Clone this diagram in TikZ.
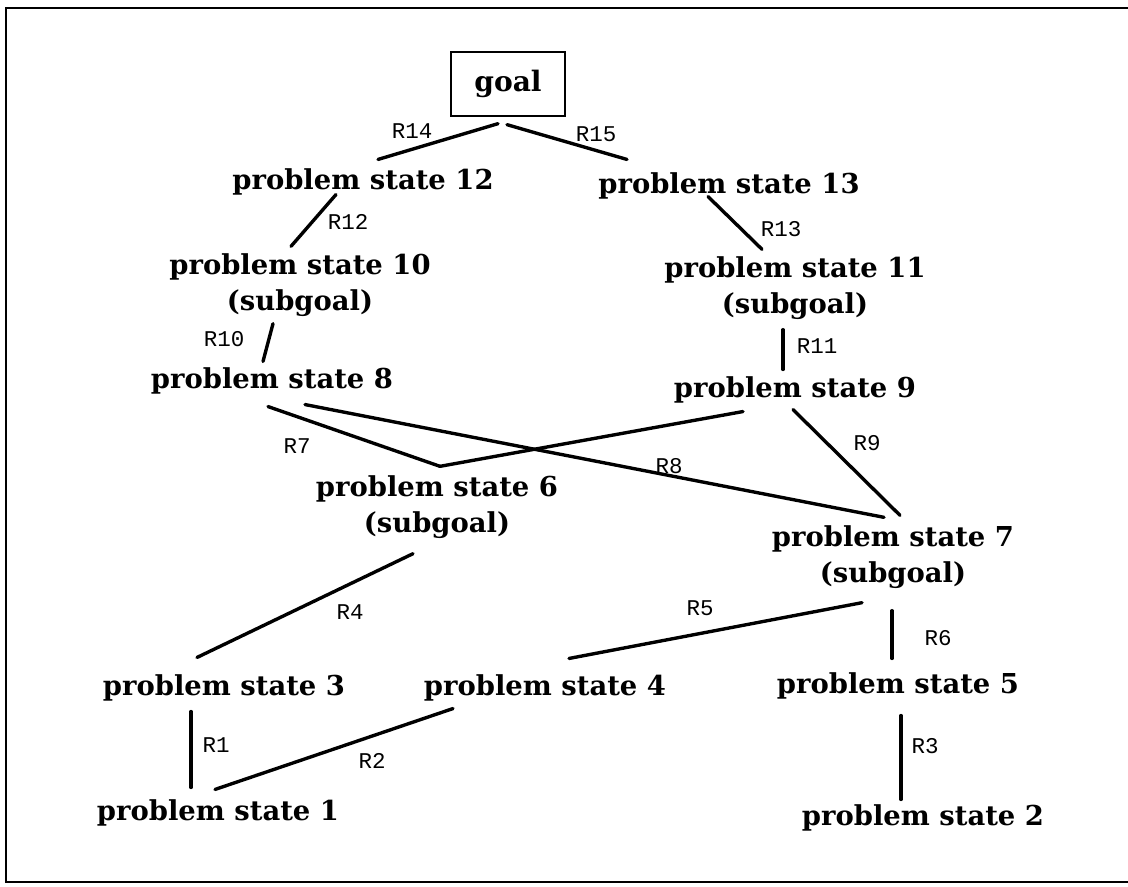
\documentclass[tikz,border=0pt]{standalone}
\usepackage{fontspec}
\setmainfont{DejaVu Serif}
\newfontfamily\rulefont{Liberation Mono}
\usetikzlibrary{positioning}

\begin{document}
\begin{tikzpicture}[
    x=0.025cm, y=-0.025cm,
    state/.style={align=center, inner sep=0pt, font=\bfseries\fontsize{19.5}{25.5}\selectfont},
    goalbox/.style={rectangle, draw, line width=1.5pt, minimum width=2.83cm, minimum height=1.58cm, font=\bfseries\fontsize{20}{24}\selectfont},
    rule/.style={inner sep=0pt, font=\rulefont\fontsize{16}{16}\selectfont},
    link/.style={line width=2.4pt, line cap=round},
    frame/.style={line width=2pt}
]
\useasboundingbox (0,0) rectangle (1128,886);
\draw[frame] (1128,8) -- (6,8) -- (6,882) -- (1128,882);

% states
\node[goalbox] (goal) at (508,84) {goal};
\node[state] (ps12) at (363,182) {problem state 12};
\node[state] (ps13) at (729,186) {problem state 13};
\node[state] (ps10) at (300,285) {problem state 10\\(subgoal)};
\node[state] (ps11) at (795,288) {problem state 11\\(subgoal)};
\node[state] (ps8) at (272,381) {problem state 8};
\node[state] (ps9) at (795,390) {problem state 9};
\node[state] (ps6) at (437,507) {problem state 6\\(subgoal)};
\node[state] (ps7) at (893,557) {problem state 7\\(subgoal)};
\node[state] (ps3) at (224,688) {problem state 3};
\node[state] (ps4) at (545,688) {problem state 4};
\node[state] (ps5) at (898,686) {problem state 5};
\node[state] (ps1) at (218,813) {problem state 1};
\node[state] (ps2) at (923,818) {problem state 2};

% rule labels
\node[rule] (r14) at (412,131) {R14};
\node[rule] (r15) at (596,134) {R15};
\node[rule] (r12) at (348,222) {R12};
\node[rule] (r13) at (781,229) {R13};
\node[rule] (r10) at (224,339) {R10};
\node[rule] (r11) at (817,346) {R11};
\node[rule] (r7) at (297,446) {R7};
\node[rule] (r8) at (669,466) {R8};
\node[rule] (r9) at (867,443) {R9};
\node[rule] (r4) at (350,612) {R4};
\node[rule] (r5) at (700,608) {R5};
\node[rule] (r6) at (938,638) {R6};
\node[rule] (r1) at (216,745) {R1};
\node[rule] (r2) at (372,761) {R2};
\node[rule] (r3) at (925,746) {R3};

% connections
\draw[link] ([shift={(-10,7)}]goal.south) -- ([shift={(15,-9)}]ps12.north);
\draw[link] ([shift={(-1,8)}]goal.south) -- ([shift={(-102,-13)}]ps13.north);
\draw[link] ([shift={(-27,-1)}]ps12.south) -- ([shift={(-9,-7)}]ps10.north);
\draw[link] ([shift={(-21,-3)}]ps13.south) -- ([shift={(-33,-7)}]ps11.north);
\draw[link] ([shift={(-27,7)}]ps10.south) -- ([shift={(-9,-6)}]ps8.north);
\draw[link] ([shift={(-12,10)}]ps11.south) -- ([shift={(-12,-7)}]ps9.north);
\draw[link] ([shift={(-4,12)}]ps8.south) -- ([shift={(3,-9)}]ps6.north);
\draw[link] ([shift={(33,10)}]ps8.south) -- ([shift={(-9,-8)}]ps7.north);
\draw[link] ([shift={(-52,8)}]ps9.south) -- ([shift={(3,-9)}]ps6.north);
\draw[link] ([shift={(-2,6)}]ps9.south) -- ([shift={(7,-10)}]ps7.north);
\draw[link] ([shift={(-24,15)}]ps6.south) -- ([shift={(-27,-17)}]ps3.north);
\draw[link] ([shift={(-31,14)}]ps7.south) -- ([shift={(24,-16)}]ps4.north);
\draw[link] ([shift={(-1,22)}]ps7.south) -- ([shift={(-6,-14)}]ps5.north);
\draw[link] ([shift={(-33,10)}]ps3.south) -- ([shift={(-27,-12)}]ps1.north);
\draw[link] ([shift={(-92,7)}]ps4.south) -- ([shift={(-3,-10)}]ps1.north);
\draw[link] ([shift={(3,16)}]ps5.south) -- ([shift={(-22,-5)}]ps2.north);
\end{tikzpicture}
\end{document}
